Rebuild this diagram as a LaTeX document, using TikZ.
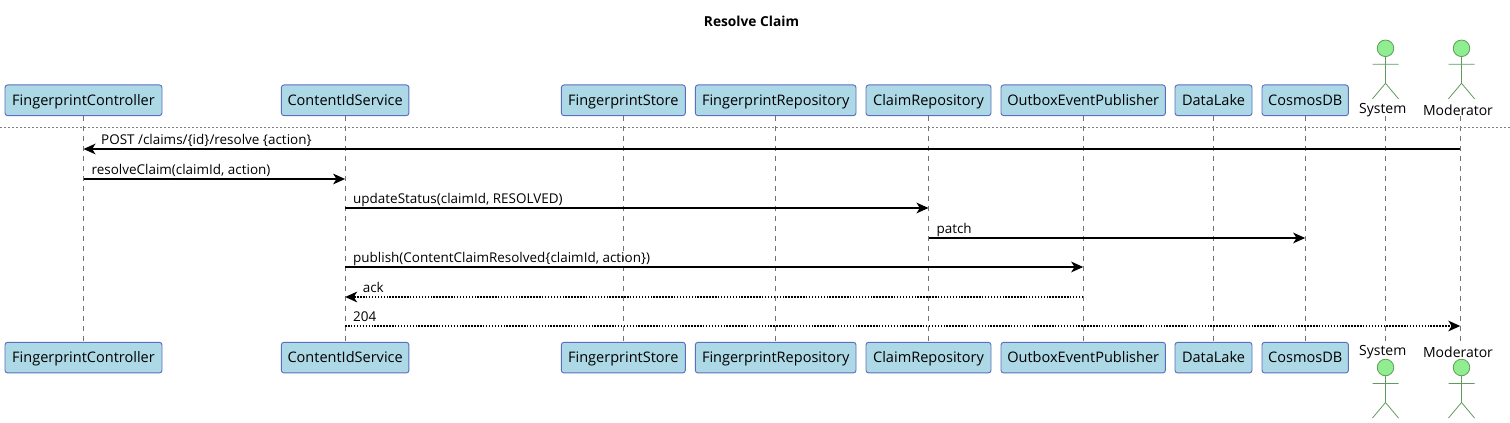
\documentclass[tikz,border=0pt]{standalone}
\usepackage{fontspec}
\setmainfont{Open Sans}
\usetikzlibrary{arrows.meta, positioning}
\definecolor{partfill}{HTML}{ADD8E6}
\definecolor{partdraw}{HTML}{5B6FBF}
\definecolor{actfill}{HTML}{90EE90}
\definecolor{actdraw}{HTML}{5F9A5F}
\begin{document}
\begin{tikzpicture}[
		x=0.75pt, y=-0.75pt,
		>={Stealth[length=9pt, width=8pt, inset=2.5pt]},
		part/.style = {draw=partdraw, fill=partfill, rounded corners=2pt, line width=0.7pt, outer sep=0pt, minimum height=23pt, inner xsep=0pt, inner ysep=0pt, text height=9pt, text depth=1pt, font=\fontsize{10.9}{12}\selectfont},
		actorname/.style = {inner sep=0pt, font=\fontsize{10.5}{12}\selectfont},
		life/.style = {draw=black!55, dash pattern=on 3.75pt off 3.75pt, line width=0.4pt},
		msg/.style = {->, line width=1.3pt},
		reply/.style = {->, line width=1.3pt, dash pattern=on 1.1pt off 1.1pt},
		msglabel/.style = {inner sep=0pt, anchor=base west, yshift=3.5pt, font=\fontsize{10.1}{11}\selectfont},
		rightlabel/.style = {msglabel, pos=0, xshift=5.4pt},
		leftlabel/.style = {msglabel, pos=1, xshift=12.6pt}
		]
		\useasboundingbox (0,0) rectangle (1510,423);

		\node [inner sep=0pt, font=\fontsize{10.3}{11}\selectfont\bfseries] (title) at (751.5,21) {Resolve Claim};

		% participants on top
		\node [part, minimum width=117.75pt] (fc) at (83.5,100.3) {FingerprintController};
		\node [part, minimum width=95.7pt, right=89.5pt of fc] (cis) {ContentIdService};
		\node [part, minimum width=93pt, right=114.3pt of cis] (fs) {FingerprintStore};
		\node [part, minimum width=120.5pt, right=7.5pt of fs] (fr) {FingerprintRepository};
		\node [part, minimum width=93.75pt, right=7.5pt of fr] (cr) {ClaimRepository};
		\node [part, minimum width=123.3pt, right=7.5pt of cr] (oep) {OutboxEventPublisher};
		\node [part, minimum width=57.75pt, right=7.2pt of oep] (dl) {DataLake};
		\node [part, minimum width=64.8pt, right=7.5pt of dl] (cdb) {CosmosDB};

		% participants at the bottom
		\node [part, minimum width=117.75pt, below=170pt of fc] (fcb) {FingerprintController};
		\node [part, minimum width=95.7pt, below=170pt of cis] (cisb) {ContentIdService};
		\node [part, minimum width=93pt, below=170pt of fs] (fsb) {FingerprintStore};
		\node [part, minimum width=120.5pt, below=170pt of fr] (frb) {FingerprintRepository};
		\node [part, minimum width=93.75pt, below=170pt of cr] (crb) {ClaimRepository};
		\node [part, minimum width=123.3pt, below=170pt of oep] (oepb) {OutboxEventPublisher};
		\node [part, minimum width=57.75pt, below=170pt of dl] (dlb) {DataLake};
		\node [part, minimum width=64.8pt, below=170pt of cdb] (cdbb) {CosmosDB};

		% actors
		\node [actorname] (sys) at (1382.7,110) {System};
		\node [actorname] (mod) at (1458,110) {Moderator};
		\node [actorname] (sysb) at (1382.7,352) {System};
		\node [actorname] (modb) at (1458,352) {Moderator};
		\foreach \ax/\ay in {1385.5/48.3, 1461.5/48.3, 1385.5/367.5, 1461.5/367.5} {
			\draw [actdraw, fill=actfill, line width=0.6pt] (\ax,\ay) circle (6.2pt);
			\draw [actdraw, line width=0.6pt] (\ax,\ay+8.3) -- ++(0,26.7) ++(-13,-19) -- ++(26,0) ++(-26,34.5) -- ++(13,-15.5) -- ++(13,15.5);
		}

		% lifelines
		\foreach \tbox/\bbox in {fc/fcb, cis/cisb, fs/fsb, fr/frb, cr/crb, oep/oepb, dl/dlb, cdb/cdbb}
			\draw [life] (\tbox.south) -- (\bbox.north);
		\coordinate (sysl) at (1385.3,116);
		\coordinate (sysm) at (1385.3,342);
		\coordinate (modl) at (1460.3,116);
		\coordinate (modm) at (1460.3,342);
		\draw [life] (sysl) -- (sysm);
		\draw [life] (modl) -- (modm);

		% separator
		\coordinate (sepl) at (0,127.5);
		\coordinate (sepr) at (1510,127.5);
		\draw [black!50, line width=0.4pt, dash pattern=on 1.5pt off 1.5pt] (sepl) -- (sepr);

		% messages
		\draw [msg] (modl |- 0,149) -- node[leftlabel] (m1) {POST /claims/\{id\}/resolve \{action\}} (fc |- 0,149);
		\draw [msg] (fc |- 0,179) -- node[rightlabel] (m2) {resolveClaim(claimId, action)} (cis |- 0,179);
		\draw [msg] (cis |- 0,208) -- node[rightlabel] (m3) {updateStatus(claimId, RESOLVED)} (cr |- 0,208);
		\draw [msg] (cr |- 0,238) -- node[rightlabel] (m4) {patch} (cdb |- 0,238);
		\draw [msg] (cis |- 0,267) -- node[rightlabel] (m5) {publish(ContentClaimResolved\{claimId, action\})} (oep |- 0,267);
		\draw [reply] (oep |- 0,297) -- node[leftlabel] (m6) {ack} (cis |- 0,297);
		\draw [reply] (cis |- 0,326) -- node[rightlabel] (m7) {204} (modl |- 0,326);
	\end{tikzpicture}
\end{document}
